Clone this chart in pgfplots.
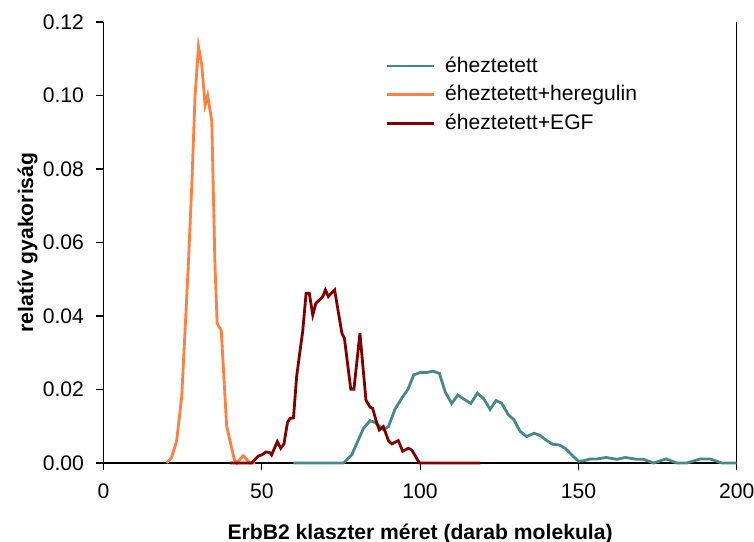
\documentclass[border=0pt]{standalone}
\usepackage{fontspec}
\setmainfont{Liberation Sans}
\usepackage{pgfplots}
\pgfplotsset{compat=1.18}
\definecolor{cteal}{RGB}{72,136,136}
\definecolor{corange}{RGB}{255,128,64}
\definecolor{cred}{RGB}{128,0,0}
\begin{document}
\begin{tikzpicture}
\path[use as bounding box] (-51.75bp,-39.5bp) rectangle (325.25bp,231.5bp);
\begin{axis}[
  at={(0,0)}, anchor=south west,
  scale only axis,
  width=316.6bp, height=220.5bp,
  xmin=0, xmax=200, ymin=0, ymax=0.12,
  axis x line=bottom, axis y line=left,
  axis line style={black, line width=0.6bp, -},
  xtick={0,50,100,150,200},
  ytick={0,0.02,0.04,0.06,0.08,0.10,0.12},
  tick align=outside,
  major tick length=3.5bp,
  tick style={black, line width=0.6bp},
  font=\fontsize{10.6}{12}\selectfont,
  /pgf/number format/assume math mode=true,
  yticklabel style={/pgf/number format/fixed, /pgf/number format/fixed zerofill, /pgf/number format/precision=2, xshift=-2.75bp},
  xticklabel style={yshift=-3.5bp},
  scaled y ticks=false,
  extra x ticks={200},
  extra x tick labels={},
  extra x tick style={grid=major, major grid style={black, line width=0.6bp}},
  xlabel={\bfseries ErbB2 klaszter méret (darab molekula)},
  ylabel={\bfseries relatív gyakoriság},
  xlabel style={at={(axis description cs:0.5,-0.16)}, anchor=center},
  ylabel style={at={(axis description cs:-0.12,0.5)}, anchor=center},
  legend style={at={(0.435,0.94)}, anchor=north west, draw=none, fill=none,
    row sep=1bp, font=\fontsize{10.6}{12}\selectfont},
  legend cell align=left,
  legend image code/.code={\draw[#1] (0bp,0bp) -- (23.5bp,0bp); \path (26.5bp,0bp);},
  clip=false,
]
\addplot[cteal, line width=1.4bp] coordinates {
(60,0) (75.8,0) (78.4,0.0022) (80.5,0.0063) (82.1,0.0094) (84.2,0.0115)
(85.8,0.0110) (88.4,0.0091) (90.0,0.0099) (92.1,0.0147) (94.2,0.0176)
(96.2,0.0201) (98.0,0.0240) (100.0,0.0246) (102.1,0.0246) (104.0,0.0250)
(106.1,0.0244) (107.9,0.0194) (110.0,0.0162) (111.9,0.0185) (114.0,0.0173)
(116.0,0.0162) (118.1,0.0190) (120.0,0.0176) (122.1,0.0146) (124.0,0.0170)
(125.8,0.0162) (127.9,0.0131) (129.6,0.0118) (131.6,0.0086) (133.7,0.0072)
(136.0,0.0081) (137.9,0.0075) (140.0,0.0061) (141.9,0.0051) (144.0,0.0049)
(145.8,0.0040) (147.9,0.0022) (150.0,0.0005) (151.6,0.0006) (153.7,0.0011)
(155.8,0.0011) (158.8,0.0015) (162.1,0.0010) (164.8,0.0015) (168.5,0.0010)
(170.6,0.0010) (173.7,0) (177.7,0.0011) (181.1,0) (184.3,0) (188.5,0.0011)
(191.6,0.0011) (195.3,0) (200,0)
};
\addlegendentry{éheztetett}
\addplot[corange, line width=1.4bp] coordinates {
(20,0) (21.5,0.0015) (23.1,0.006) (24.7,0.018) (25.7,0.035) (26.8,0.054)
(27.9,0.076) (28.9,0.0997) (30.0,0.1133) (31.0,0.1085) (32.1,0.0974)
(32.9,0.1000) (34.2,0.0930) (35.2,0.054) (35.9,0.038) (37.2,0.036)
(38.9,0.010) (40.5,0.004) (41.3,0.001) (42.1,0) (44.1,0.002) (46.2,0) (48,0)
};
\addlegendentry{éheztetett+heregulin}
\addplot[cred, line width=1.4bp] coordinates {
(40,0) (46.8,0) (48.9,0.0019) (50.0,0.0022) (51.3,0.0030) (52.6,0.0028)
(53.1,0.0022) (54.9,0.0058) (56.0,0.0040) (57.0,0.0052) (58.1,0.0110)
(58.9,0.0121) (60.0,0.0123) (61.0,0.0235) (62.1,0.0307) (62.9,0.0357)
(64.0,0.0462) (65.0,0.0462) (66.1,0.0403) (67.1,0.0435) (68.4,0.0445)
(69.3,0.0454) (70.1,0.0471) (71.0,0.0453) (73.0,0.0471) (75.3,0.0353)
(76.1,0.0339) (78.1,0.0201) (79.1,0.0201) (81.0,0.0353) (82.9,0.0171)
(84.2,0.0152) (85.0,0.0149) (86.1,0.0115) (87.1,0.0090) (88.4,0.0099)
(90.0,0.0061) (91.1,0.0052) (93.1,0.0061) (94.5,0.0032) (96.3,0.0040)
(97.4,0.0035) (99.8,0) (119,0)
};
\addlegendentry{éheztetett+EGF}
\end{axis}
\end{tikzpicture}
\end{document}
